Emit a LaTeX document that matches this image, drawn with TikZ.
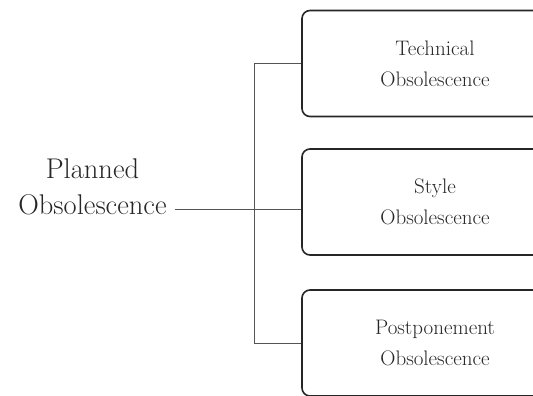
\documentclass[tikz,border=0pt]{standalone}
\usepackage{fontspec}
\usepackage{tikz}
\usetikzlibrary{positioning,calc}
\definecolor{inkgray}{HTML}{262626}
\definecolor{linkgray}{HTML}{555555}
\tikzset{
  % noder
  root/.style={align=center,inner sep=8pt,text=inkgray,
               font=\fontsize{28.5}{36}\selectfont},
  kind/.style={draw=inkgray,line width=1.6pt,rounded corners=8pt,align=center,
               minimum width=266pt,minimum height=106pt,text=inkgray,
               font=\fontsize{21}{31}\selectfont},
  % linjer
  link/.style={draw=linkgray,line width=0.9pt},
}
\begin{document}
\begin{tikzpicture}[x=1pt,y=1pt]
\useasboundingbox (0,0) rectangle (533,396);
  \node[root] (plan) at (92.5,209) {Planned\\Obsolescence};
  \node[kind] (tech) at (435,332.5) {Technical\\Obsolescence};
  \node[kind] (style) at (435,194) {Style\\Obsolescence};
  \node[kind] (post) at (435,53) {Postponement\\Obsolescence};
  \coordinate (trunk) at (254,0);
  \coordinate (hub) at (254,187);
  \draw[link] (tech.west) -- (tech.west -| trunk) -- (post.west -| trunk) -- (post.west);
  \draw[link] (plan.east |- hub) -- (style.west |- hub);
\end{tikzpicture}
\end{document}
